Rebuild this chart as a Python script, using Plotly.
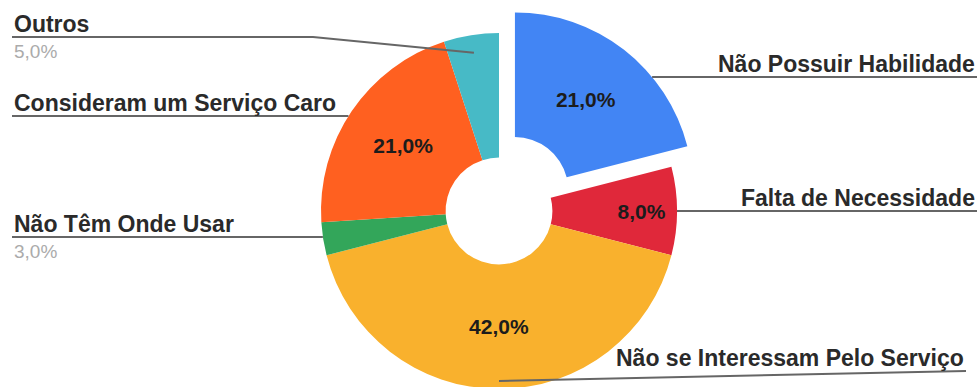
import math
import plotly.graph_objects as go

# ---------------- data ----------------
categories = [
    "Não Possuir Habilidade",
    "Falta de Necessidade",
    "Não se Interessam Pelo Serviço",
    "Não Têm Onde Usar",
    "Consideram um Serviço Caro",
    "Outros",
]
values = [21.0, 8.0, 42.0, 3.0, 21.0, 5.0]
colors = ["#4285F4", "#E0283A", "#F9B12D", "#33A65A", "#FF6020", "#47BAC6"]
pulls = [0.146, 0, 0, 0, 0, 0]

# ---------------- layout constants ----------------
W, H = 979, 415
PIE_CX, PIE_CY, PIE_HALF = 499, 211, 204
HOLE = 0.30
FONT = "Liberation Sans, Arial, sans-serif"

def fmt(v):
    return f"{v:.1f}%".replace(".", ",")

inside_text = [fmt(v) if v >= 6 else "" for v in values]

fig = go.Figure()
fig.add_trace(go.Pie(
    labels=categories,
    values=values,
    text=inside_text,
    textinfo="text",
    textposition="inside",
    insidetextorientation="horizontal",
    textfont=dict(family=FONT, size=21, color="#1c1c1c", weight="bold"),
    marker=dict(colors=colors, line=dict(width=0)),
    pull=pulls,
    hole=HOLE,
    sort=False,
    direction="clockwise",
    rotation=0,
    showlegend=False,
    hoverinfo="label+percent",
    domain=dict(
        x=[(PIE_CX - 250) / W, (PIE_CX + 250) / W],
        y=[1 - (PIE_CY + PIE_HALF) / H, 1 - (PIE_CY - PIE_HALF) / H],
    ),
))

# pie geometry replicated from plotly's own sizing rule
R = PIE_HALF / (1 + max(pulls))
total = sum(values)
mids = []
acc = 0.0
for v in values:
    a0 = acc / total * 360
    acc += v
    a1 = acc / total * 360
    mids.append((a0 + a1) / 2)

def center_of(i):
    m = math.radians(mids[i])
    p = pulls[i] * R
    return PIE_CX + p * math.sin(m), PIE_CY - p * math.cos(m)

def mid_point(i, frac):
    cx, cy = center_of(i)
    m = math.radians(mids[i])
    return cx + frac * R * math.sin(m), cy - frac * R * math.cos(m)

def edge_at_y(i, y, side):
    cx, cy = center_of(i)
    dx = math.sqrt(max(R * R - (y - cy) ** 2, 0))
    return (cx - dx if side == "left" else cx + dx), y

# label placement: (category index, side, line y, text edge x, knee x, anchor)
label_layout = [
    (5, "left", 37, 12, 313, ("mid", 0.90)),
    (4, "left", 116, 12, None, ("edge",)),
    (3, "left", 237, 12, None, ("edge",)),
    (0, "right", 77, 977, None, ("edge",)),
    (1, "right", 211, 977, None, ("edge",)),
    (2, "right", 371, 966, None, ("mid", 0.955)),
]

def px(x):
    return x / W

def py(y):
    return 1 - y / H

annotations = []
shapes = []
for idx, side, ly, tx, knee, anchor in label_layout:
    if anchor[0] == "edge":
        ax, ay = edge_at_y(idx, ly, side)
    else:
        ax, ay = mid_point(idx, anchor[1])
    pts = [(tx, ly)]
    if knee is not None:
        pts.append((knee, ly))
    pts.append((ax, ay))
    path = "M " + " L ".join(f"{px(x):.5f},{py(y):.5f}" for x, y in pts)
    shapes.append(dict(type="path", xref="paper", yref="paper", path=path,
                       line=dict(color="#666666", width=2)))
    annotations.append(dict(
        x=px(tx), y=py(ly + 2), xref="paper", yref="paper",
        xanchor="left" if side == "left" else "right", yanchor="bottom",
        text=categories[idx], showarrow=False,
        font=dict(family=FONT, size=23, color="#2a2a2a", weight="bold"),
    ))
    if not inside_text[idx]:
        annotations.append(dict(
            x=px(tx), y=py(ly + 2), xref="paper", yref="paper",
            xanchor="left" if side == "left" else "right", yanchor="top",
            text=fmt(values[idx]), showarrow=False,
            font=dict(family=FONT, size=19, color="#ababab"),
        ))

fig.update_layout(
    width=W, height=H, autosize=False,
    margin=dict(l=0, r=0, t=0, b=0, pad=0),
    paper_bgcolor="white", plot_bgcolor="white",
    annotations=annotations, shapes=shapes,
)

fig.write_html(
    "out.html",
    config={"displayModeBar": False},
    post_script="document.documentElement.style.overflow='hidden';document.body.style.overflow='hidden';",
)
